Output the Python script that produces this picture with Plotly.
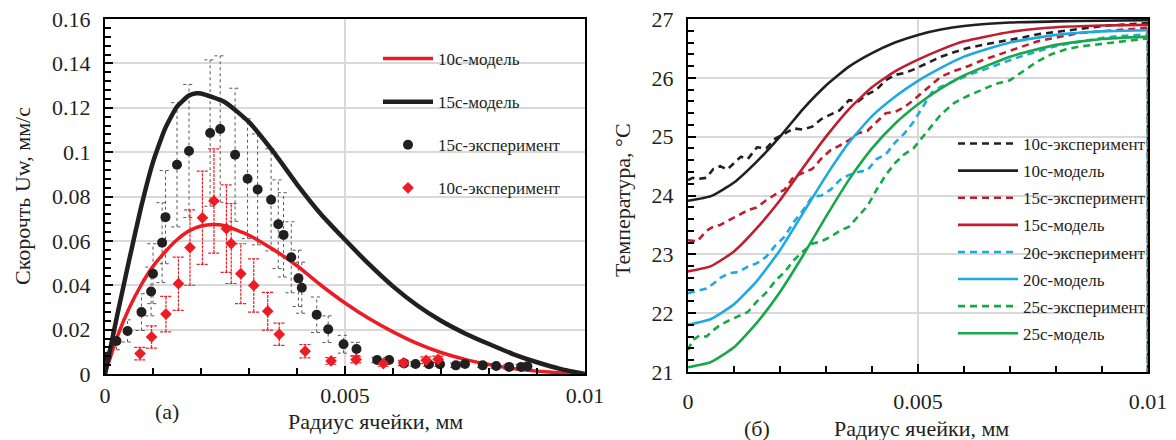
import plotly.graph_objects as go

FONT = "Liberation Serif, Times New Roman, serif"
TXT = "#231f20"

# ---------------- Left panel (a): velocity ----------------
model15_x = [0, 0.00025, 0.0005, 0.00075, 0.001, 0.00125, 0.0015, 0.00175, 0.0019, 0.002,
             0.0025, 0.003, 0.0035, 0.004, 0.0045, 0.005, 0.0055, 0.006, 0.0065, 0.007,
             0.0075, 0.008, 0.0085, 0.009, 0.0095, 0.01]
model15_u = [0, 0.026, 0.051, 0.075, 0.0955, 0.1105, 0.1205, 0.1255, 0.1265, 0.1264,
             0.1225, 0.1135, 0.1003, 0.0855, 0.072, 0.0605, 0.0495, 0.0395, 0.031, 0.024,
             0.0183, 0.0135, 0.009, 0.0053, 0.0022, 0]

model10_x = [0, 0.00025, 0.0005, 0.00075, 0.001, 0.00125, 0.0015, 0.00175, 0.002, 0.00225,
             0.0025, 0.003, 0.0035, 0.004, 0.0045, 0.005, 0.0055, 0.006, 0.0065, 0.007,
             0.0075, 0.008, 0.0085, 0.009, 0.0095, 0.01]
model10_u = [0, 0.0165, 0.0295, 0.040, 0.0485, 0.055, 0.0605, 0.0645, 0.0667, 0.0674,
             0.0668, 0.0625, 0.0562, 0.0488, 0.040, 0.032, 0.025, 0.019, 0.0138, 0.0097,
             0.0066, 0.0043, 0.0025, 0.0013, 0.0005, 0]

exp15_x = [0.00003, 0.00024, 0.00047, 0.00076, 0.00096, 0.0010, 0.00119, 0.00126, 0.0015, 0.00175,
           0.00219, 0.0024, 0.00271, 0.00297, 0.00318, 0.00346, 0.00361, 0.00372, 0.00388, 0.00403,
           0.0041, 0.00441, 0.00465, 0.00497, 0.00524, 0.00567, 0.00592, 0.00623, 0.00647, 0.00675,
           0.00698, 0.00731, 0.0075, 0.00787, 0.00815, 0.00842, 0.00867, 0.0088]
exp15_u = [0.0078, 0.0149, 0.0194, 0.0279, 0.0372, 0.0452, 0.0592, 0.0707, 0.0943, 0.1005,
           0.1086, 0.1104, 0.0988, 0.088, 0.0832, 0.0785, 0.0675, 0.0627, 0.0526, 0.0431,
           0.0389, 0.0267, 0.0202, 0.0134, 0.0113, 0.0063, 0.0063, 0.0048, 0.0045, 0.0044,
           0.0044, 0.0039, 0.0045, 0.0039, 0.0036, 0.0032, 0.0032, 0.0035]
exp15_err = [0.002, 0.004, 0.005, 0.0083, 0.011, 0.0135, 0.018, 0.021, 0.028, 0.030,
             0.033, 0.033, 0.030, 0.027, 0.025, 0.023, 0.020, 0.019, 0.016, 0.0127,
             0.0115, 0.008, 0.006, 0.004, 0.003, 0.0012, 0.0012, 0.001, 0.001, 0.001,
             0.001, 0.001, 0.001, 0.001, 0.001, 0.001, 0.001, 0.001]

exp10_x = [0.00073, 0.00097, 0.00127, 0.00153, 0.00177, 0.00203, 0.00227, 0.00253, 0.00263, 0.00283,
           0.0031, 0.00339, 0.00363, 0.00417, 0.00471, 0.00523, 0.0058, 0.00622, 0.00669, 0.00694]
exp10_u = [0.0092, 0.0167, 0.027, 0.0407, 0.057, 0.0704, 0.078, 0.0655, 0.0588, 0.0452,
           0.0399, 0.0283, 0.0179, 0.0103, 0.0059, 0.0065, 0.0047, 0.005, 0.0062, 0.0066]
exp10_err = [0.0028, 0.005, 0.008, 0.012, 0.017, 0.021, 0.0235, 0.0197, 0.018, 0.0135,
             0.012, 0.0085, 0.005, 0.003, 0.0015, 0.0015, 0.0012, 0.0012, 0.0015, 0.0015]

# ---------------- Right panel (б): temperature ----------------
tm_x = [0, 0.0005, 0.001, 0.0015, 0.002, 0.0025, 0.003, 0.0035, 0.004, 0.0045,
        0.005, 0.0055, 0.006, 0.007, 0.008, 0.009, 0.01]
tm10 = [23.91, 23.99, 24.22, 24.58, 25.0, 25.47, 25.87, 26.19, 26.42, 26.6,
        26.73, 26.82, 26.88, 26.94, 26.96, 26.97, 26.98]
tm15 = [22.71, 22.8, 23.05, 23.45, 23.92, 24.47, 25.0, 25.47, 25.84, 26.11,
        26.31, 26.48, 26.62, 26.78, 26.86, 26.89, 26.9]
tm20 = [21.8, 21.9, 22.15, 22.55, 23.07, 23.7, 24.33, 24.9, 25.35, 25.68,
        25.95, 26.17, 26.36, 26.6, 26.73, 26.79, 26.81]
tm25 = [21.08, 21.17, 21.42, 21.84, 22.36, 22.98, 23.64, 24.27, 24.8, 25.22,
        25.55, 25.82, 26.04, 26.36, 26.56, 26.66, 26.7]

te10_x = [0, 0.0001, 0.0002, 0.0004, 0.00055, 0.0007, 0.00085, 0.001, 0.00115, 0.0013,
          0.0015, 0.0017, 0.0019, 0.0021, 0.0023, 0.0025, 0.0027, 0.0029, 0.0031, 0.0033,
          0.0035, 0.0037, 0.0039, 0.0041, 0.0043, 0.0045, 0.0047, 0.0049, 0.0052, 0.0055,
          0.0058, 0.0061, 0.0064, 0.0067, 0.007, 0.0073, 0.0076, 0.0079, 0.0082, 0.0085,
          0.0088, 0.0091, 0.0094, 0.0097, 0.01, 0.01]
te10 = [24.26, 24.3, 24.28, 24.3, 24.45, 24.5, 24.44, 24.55, 24.66, 24.62,
        24.82, 24.8, 24.97, 25.05, 25.14, 25.12, 25.17, 25.3, 25.37, 25.45,
        25.62, 25.6, 25.72, 25.8, 25.96, 26.05, 26.08, 26.14, 26.25, 26.36,
        26.44, 26.51, 26.56, 26.6, 26.64, 26.69, 26.74, 26.77, 26.8, 26.84,
        26.86, 26.89, 26.9, 26.92, 26.93, 20]

te15_x = [0, 0.0002, 0.0004, 0.00055, 0.0007, 0.0009, 0.0011, 0.0013, 0.0015, 0.0017,
          0.0019, 0.0021, 0.0023, 0.0025, 0.0027, 0.0029, 0.0031, 0.0033, 0.0035, 0.0037,
          0.0039, 0.0041, 0.0043, 0.0045, 0.0047, 0.0049, 0.0052, 0.0055, 0.0058, 0.0061,
          0.0064, 0.0067, 0.007, 0.0073, 0.0076, 0.0079, 0.0082, 0.0085, 0.0088, 0.0091,
          0.0094, 0.0097, 0.01, 0.01]
te15 = [23.24, 23.22, 23.4, 23.47, 23.5, 23.58, 23.66, 23.75, 23.8, 23.92,
        24.02, 24.1, 24.32, 24.38, 24.45, 24.63, 24.77, 24.85, 24.94, 25.06,
        25.1, 25.25, 25.4, 25.42, 25.5, 25.62, 25.82, 26.02, 26.12, 26.2,
        26.3, 26.38, 26.47, 26.55, 26.62, 26.67, 26.72, 26.76, 26.78, 26.8,
        26.82, 26.84, 26.85, 20]

te20_x = [0, 0.0002, 0.0004, 0.00055, 0.0007, 0.0009, 0.0011, 0.0013, 0.0015, 0.0017,
          0.0019, 0.0021, 0.0023, 0.0025, 0.0027, 0.0029, 0.0031, 0.0033, 0.0035, 0.0037,
          0.0039, 0.0041, 0.0043, 0.0045, 0.0047, 0.0049, 0.0051, 0.0053, 0.0055, 0.0058,
          0.0061, 0.0064, 0.0067, 0.007, 0.0073, 0.0076, 0.0079, 0.0082, 0.0085, 0.0088,
          0.0091, 0.0094, 0.0097, 0.01, 0.01]
te20 = [22.34, 22.38, 22.42, 22.5, 22.6, 22.68, 22.7, 22.79, 22.85, 22.96,
        23.15, 23.3, 23.55, 23.75, 23.98, 24.0, 24.1, 24.26, 24.35, 24.4,
        24.43, 24.62, 24.7, 24.9, 25.05, 25.25, 25.5, 25.75, 25.85, 25.95,
        26.05, 26.13, 26.22, 26.3, 26.38, 26.45, 26.52, 26.57, 26.61, 26.65,
        26.69, 26.71, 26.73, 26.74, 20]

te25_x = [0, 0.0001, 0.00025, 0.0004, 0.00055, 0.0007, 0.0009, 0.0011, 0.0013, 0.0015,
          0.0017, 0.0019, 0.0021, 0.0023, 0.0025, 0.0027, 0.0029, 0.0031, 0.0033, 0.0035,
          0.0037, 0.0039, 0.0041, 0.0043, 0.0045, 0.0047, 0.0049, 0.0051, 0.0053, 0.0055,
          0.0058, 0.0061, 0.0064, 0.0067, 0.007, 0.0073, 0.0076, 0.0079, 0.0082, 0.0085,
          0.0088, 0.0091, 0.0094, 0.0097, 0.01, 0.01]
te25 = [21.37, 21.54, 21.62, 21.6, 21.71, 21.8, 21.88, 21.95, 22.02, 22.2,
        22.35, 22.55, 22.7, 22.9, 23.05, 23.18, 23.22, 23.3, 23.4, 23.47,
        23.65, 23.82, 24.1, 24.35, 24.55, 24.7, 24.8, 25.0, 25.2, 25.38,
        25.58, 25.7, 25.8, 25.9, 25.96, 26.12, 26.28, 26.4, 26.48, 26.53,
        26.56, 26.59, 26.62, 26.65, 26.67, 20]

C_BLACK = "#231f20"
C_RED_L = "#ed1c24"
C_RED = "#be1e2d"
C_BLUE = "#1fa9e1"
C_GREEN = "#18a84a"


def err_segments(xs, ys, es, cap):
    X, Y = [], []
    for x, y, e in zip(xs, ys, es):
        X += [x, x, None, x - cap, x + cap, None, x - cap, x + cap, None]
        Y += [y - e, y + e, None, y + e, y + e, None, y - e, y - e, None]
    return X, Y


fig = go.Figure()

ex, ey = err_segments(exp15_x, exp15_u, exp15_err, 0.00012)
fig.add_trace(go.Scatter(x=ex, y=ey, mode="lines", line=dict(color="#555555", width=1, dash="dot"),
                         showlegend=False, hoverinfo="skip", xaxis="x", yaxis="y"))
ex, ey = err_segments(exp10_x, exp10_u, exp10_err, 0.00012)
fig.add_trace(go.Scatter(x=ex, y=ey, mode="lines", line=dict(color=C_RED_L, width=1.2, dash="3px,1px"),
                         showlegend=False, hoverinfo="skip", xaxis="x", yaxis="y"))

fig.add_trace(go.Scatter(x=model10_x, y=model10_u, mode="lines", name="10с-модель",
                         line=dict(color=C_RED_L, width=3.5, shape="spline", smoothing=0.5),
                         legend="legend", legendgroup="a1", legendrank=1, xaxis="x", yaxis="y"))
fig.add_trace(go.Scatter(x=model15_x, y=model15_u, mode="lines", name="15с-модель",
                         line=dict(color=C_BLACK, width=4.5, shape="spline", smoothing=0.5),
                         legend="legend", legendgroup="a2", legendrank=2, xaxis="x", yaxis="y"))
fig.add_trace(go.Scatter(x=exp15_x, y=exp15_u, mode="markers", name="15с-эксперимент",
                         marker=dict(color=C_BLACK, size=10, symbol="circle"),
                         legend="legend", legendgroup="a3", legendrank=3, xaxis="x", yaxis="y"))
fig.add_trace(go.Scatter(x=exp10_x, y=exp10_u, mode="markers", name="10с-эксперимент",
                         marker=dict(color=C_RED_L, size=9, symbol="diamond"),
                         legend="legend", legendgroup="a4", legendrank=4, xaxis="x", yaxis="y"))

dash_exp = "7px,5px"
right = [
    ("10с-эксперимент", te10_x, te10, C_BLACK, True),
    ("10с-модель", tm_x, tm10, C_BLACK, False),
    ("15с-эксперимент", te15_x, te15, C_RED, True),
    ("15с-модель", tm_x, tm15, C_RED, False),
    ("20с-эксперимент", te20_x, te20, C_BLUE, True),
    ("20с-модель", tm_x, tm20, C_BLUE, False),
    ("25с-эксперимент", te25_x, te25, C_GREEN, True),
    ("25с-модель", tm_x, tm25, C_GREEN, False),
]
for i, (nm, xs, ys, col, is_exp) in enumerate(right):
    fig.add_trace(go.Scatter(
        x=xs, y=ys, mode="lines", name=nm,
        line=dict(color=col, width=2.6, dash=dash_exp if is_exp else "solid",
                  shape="linear" if is_exp else "spline", smoothing=0.5),
        legend="legend2", legendgroup="b%d" % i, legendrank=10 + i,
        xaxis="x2", yaxis="y2"))

axis_common = dict(
    showline=True, linecolor="black", linewidth=2, mirror=True,
    ticks="inside", ticklen=8, tickwidth=1.5, tickcolor="black",
    showgrid=True, gridcolor="#d9d9d9", gridwidth=1.5, zeroline=False,
    automargin=False,
    tickfont=dict(family=FONT, size=22, color=TXT),
)

fig.update_layout(
    width=1176, height=440,
    margin=dict(l=0, r=0, t=0, b=0, autoexpand=False),
    paper_bgcolor="white", plot_bgcolor="white",
    font=dict(family=FONT, color=TXT),
    xaxis=dict(domain=[105 / 1176, 585 / 1176], range=[0, 0.01], dtick=0.005, tick0=0,
               minor=dict(dtick=0.001, ticks="inside", ticklen=6, tickcolor="black", showgrid=False),
               anchor="y", ticklabelstandoff=1, **axis_common),
    yaxis=dict(domain=[1 - 374 / 440, 1 - 19 / 440], range=[0, 0.16], dtick=0.02, tick0=0,
               minor=dict(dtick=0.004, ticks="inside", ticklen=6, tickcolor="black", showgrid=False),
               anchor="x", ticklabelstandoff=8, **axis_common),
    xaxis2=dict(domain=[688 / 1176, 1148 / 1176], range=[0, 0.01], dtick=0.005, tick0=0,
                minor=dict(dtick=0.001, ticks="inside", ticklen=6, tickcolor="black", showgrid=False),
                anchor="y2", ticklabelstandoff=9, **axis_common),
    yaxis2=dict(domain=[1 - 372 / 440, 1 - 19 / 440], range=[21, 27], dtick=1, tick0=21,
                minor=dict(dtick=0.2, ticks="inside", ticklen=6, tickcolor="black", showgrid=False),
                anchor="x2", ticklabelstandoff=8, **axis_common),
    legend=dict(x=378 / 1176, y=1 - 41 / 440, xanchor="left", yanchor="top",
                font=dict(family=FONT, size=17, color=TXT), bgcolor="rgba(0,0,0,0)",
                tracegroupgap=18, itemwidth=50),
    legend2=dict(x=953 / 1176, y=1 - 126 / 440, xanchor="left", yanchor="top",
                 font=dict(family=FONT, size=17, color=TXT), bgcolor="rgba(0,0,0,0)",
                 tracegroupgap=2, itemwidth=60),
    showlegend=True,
)

ann = dict(xref="paper", yref="paper", showarrow=False, xanchor="center", yanchor="middle",
           font=dict(family=FONT, size=22, color=TXT))
fig.add_annotation(x=375 / 1176, y=1 - 421 / 440, text="Радиус ячейки, мм", **ann)
fig.add_annotation(x=167 / 1176, y=1 - 411 / 440, text="(а)", **ann)
fig.add_annotation(x=921 / 1176, y=1 - 428 / 440, text="Радиус ячейки, мм", **ann)
fig.add_annotation(x=757 / 1176, y=1 - 428 / 440, text="(б)", **ann)
fig.add_annotation(x=22 / 1176, y=1 - 196 / 440, text="Скорочть Uw, мм/с", textangle=-90, **ann)
fig.add_annotation(x=622 / 1176, y=1 - 200 / 440, text="Температура, °C", textangle=-90, **ann)

fig.write_html("out.html")
